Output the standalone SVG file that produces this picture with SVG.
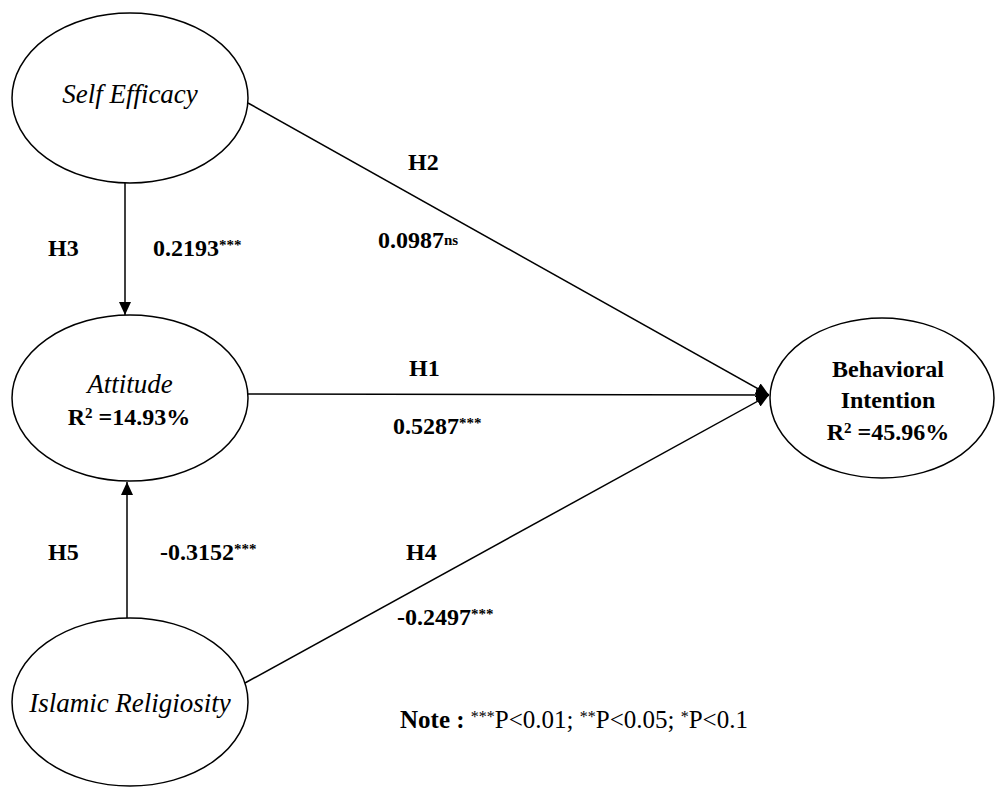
<svg xmlns="http://www.w3.org/2000/svg" width="995" height="787" viewBox="0 0 995 787">
<style>
.node{fill:#fff;stroke:#000;stroke-width:1.5}
.edge{stroke:#000;stroke-width:1.5;fill:none}
text{font-family:"Liberation Serif","Times New Roman",serif;fill:#000}
.it{font-style:italic;font-size:27px}
.b{font-weight:bold;font-size:24px}
.sup{font-size:15px}
.note{font-size:25px}
.nsup{font-size:16px}
</style>
<defs>
<marker id="arr" viewBox="0 0 13 12" refX="13" refY="6" markerWidth="13" markerHeight="12" markerUnits="userSpaceOnUse" orient="auto">
<path d="M0,0 L13,6 L0,12 z" fill="#000"/>
</marker>
</defs>
<g id="connectors">
<line class="edge" x1="125" y1="183" x2="125" y2="315" marker-end="url(#arr)"/>
<line class="edge" x1="127" y1="618" x2="127" y2="482" marker-end="url(#arr)"/>
<line class="edge" x1="248" y1="103" x2="769" y2="395" marker-end="url(#arr)"/>
<line class="edge" x1="248" y1="394" x2="769" y2="395" marker-end="url(#arr)"/>
<line class="edge" x1="245" y1="683" x2="769" y2="395" marker-end="url(#arr)"/>
</g>
<g id="self-efficacy">
<ellipse class="node" cx="130" cy="98" rx="118" ry="85"/>
<text class="it" x="130" y="103" text-anchor="middle">Self Efficacy</text>
</g>
<g id="attitude">
<ellipse class="node" cx="130" cy="398" rx="118" ry="83"/>
<text class="it" x="130" y="393" text-anchor="middle">Attitude</text>
<text class="b" x="129" y="425" text-anchor="middle">R<tspan class="sup" dy="-7">2</tspan><tspan dy="7"> =14.93%</tspan></text>
</g>
<g id="islamic-religiosity">
<ellipse class="node" cx="130" cy="702" rx="118" ry="84"/>
<text class="it" x="130" y="712" text-anchor="middle">Islamic Religiosity</text>
</g>
<g id="behavioral-intention">
<ellipse class="node" cx="882" cy="398" rx="112" ry="80"/>
<text class="b" x="888" y="377" text-anchor="middle">Behavioral</text>
<text class="b" x="888" y="408" text-anchor="middle">Intention</text>
<text class="b" x="888" y="440" text-anchor="middle">R<tspan class="sup" dy="-7">2</tspan><tspan dy="7"> =45.96%</tspan></text>
</g>
<g id="labels">
<text class="b" x="408" y="170">H2</text>
<text class="b" x="378" y="248">0.0987<tspan class="sup" dy="-3">ns</tspan></text>
<text class="b" x="48" y="256">H3</text>
<text class="b" x="153" y="256">0.2193<tspan class="sup" dy="-6">***</tspan></text>
<text class="b" x="409" y="376">H1</text>
<text class="b" x="393" y="434">0.5287<tspan class="sup" dy="-6">***</tspan></text>
<text class="b" x="48" y="560">H5</text>
<text class="b" x="160" y="560">-0.3152<tspan class="sup" dy="-6">***</tspan></text>
<text class="b" x="406" y="560">H4</text>
<text class="b" x="397" y="625">-0.2497<tspan class="sup" dy="-6">***</tspan></text>
<text class="note" x="400" y="728"><tspan font-weight="bold">Note :</tspan> <tspan class="nsup" dy="-6">***</tspan><tspan dy="6">P&lt;0.01; </tspan><tspan class="nsup" dy="-6">**</tspan><tspan dy="6">P&lt;0.05; </tspan><tspan class="nsup" dy="-6">*</tspan><tspan dy="6">P&lt;0.1</tspan></text>
</g>
</svg>
